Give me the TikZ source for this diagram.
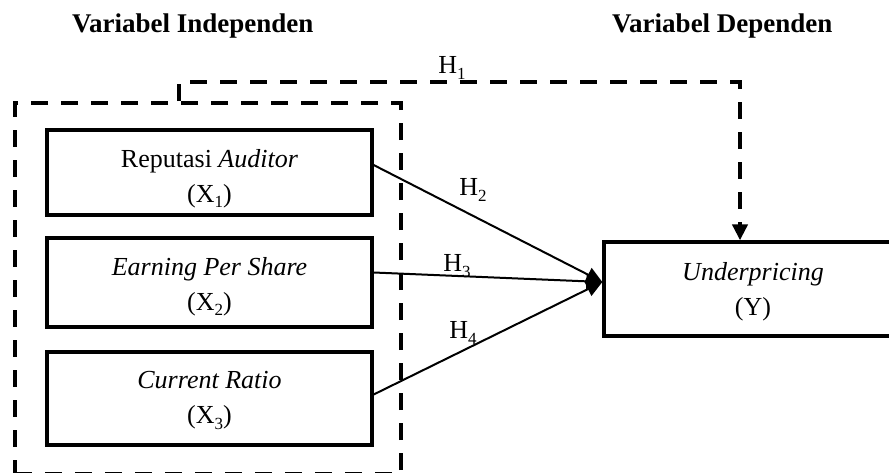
\documentclass[tikz,border=0pt]{standalone}
\usepackage{fontspec}
\setmainfont{Liberation Serif}
\usetikzlibrary{arrows.meta,calc}
\newcommand{\hsub}[1]{\raisebox{-0.22em}{\fontsize{17}{17}\selectfont #1}}
\begin{document}
\begin{tikzpicture}[x=1pt,y=-1pt,
  txt/.style={font=\fontsize{26}{35}\selectfont, align=center},
  varbox/.style={draw, line width=3.3pt, minimum width=325pt, inner sep=0pt},
  dashline/.style={line width=4pt, dash pattern=on 17pt off 13pt},
  tip/.style={-{Triangle[length=16pt,width=15pt]}},
  conn/.style={line width=2pt, tip},
  lbl/.style={font=\fontsize{26}{26}\selectfont, inner sep=0pt},
  ttl/.style={font=\fontsize{27}{27}\selectfont\bfseries, inner sep=0pt, anchor=base west}]
\path[use as bounding box] (0,0) rectangle (889,472);
\clip (0,0) rectangle (889,472);
\node[ttl] (t1) at (72,32) {Variabel Independen};
\node[ttl] (t2) at (612,32) {Variabel Dependen};
\node[draw, dashline, minimum width=386pt, minimum height=371pt, inner sep=0pt] (indep) at (208,288.5) {};
\node[varbox, minimum height=85pt, label={[txt, yshift=-6pt]center:{Reputasi \textit{Auditor}\\(X\hsub{1})}}] (b1) at (209.5,172.5) {};
\node[varbox, minimum height=89pt, label={[txt, yshift=-4pt]center:{\textit{Earning Per Share}\\(X\hsub{2})}}] (b2) at (209.5,282.5) {};
\node[varbox, minimum height=93pt, label={[txt, yshift=-2pt]center:{\textit{Current Ratio}\\(X\hsub{3})}}] (b3) at (209.5,398.5) {};
\node[varbox, minimum width=298pt, minimum height=94pt, label={[txt, yshift=-3pt]center:{\textit{Underpricing}\\(Y)}}] (Y) at (753,289) {};
\coordinate (tgt) at ([yshift=7pt]Y.west);
\coordinate (h1a) at ([xshift=-29pt]indep.north);
\coordinate (h1b) at ([xshift=-13pt]Y.north);
\draw[dashline, tip] (h1a) -- ++(0,-19) -| (h1b);
\draw[conn] ([yshift=7.5pt]b1.east) -- (tgt);
\draw[conn] ([yshift=10pt]b2.east) -- (tgt);
\draw[conn] ([yshift=4pt]b3.east) -- (tgt);
\node[lbl] (H1) at (452,68) {H\hsub{1}};
\node[lbl] (H2) at (473,190) {H\hsub{2}};
\node[lbl] (H3) at (457,266) {H\hsub{3}};
\node[lbl] (H4) at (463,333) {H\hsub{4}};
\end{tikzpicture}
\end{document}
